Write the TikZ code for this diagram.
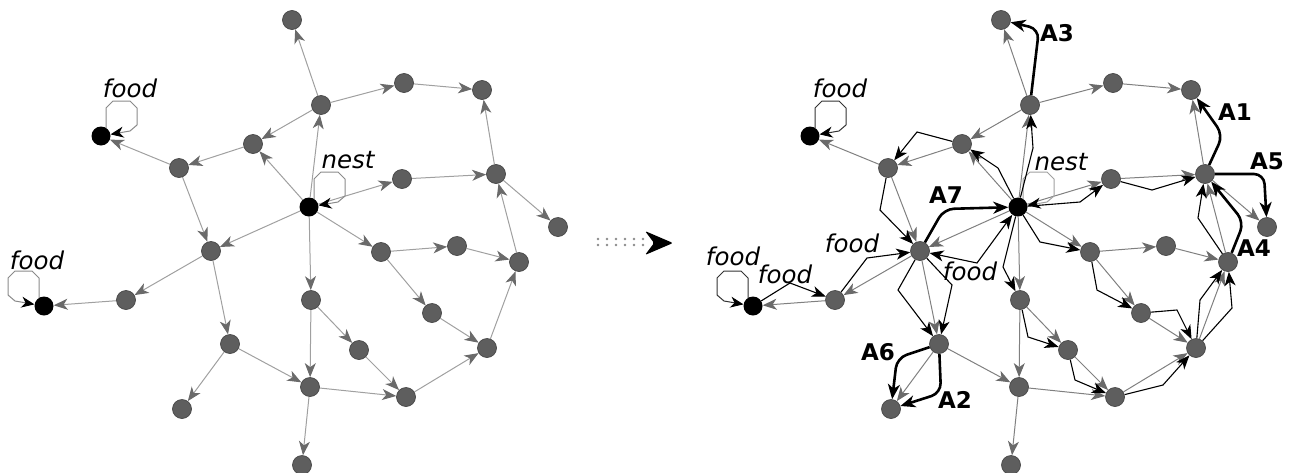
\documentclass[tikz,border=0pt]{standalone}
\usepackage{fontspec}
\setmainfont{DejaVu Sans}
\usetikzlibrary{arrows.meta,calc}
\pgfdeclarelayer{bg}
\pgfsetlayers{bg,main}
\definecolor{vfill}{HTML}{5E5E5E}
\definecolor{vline}{HTML}{474747}
\definecolor{eline}{HTML}{A0A0A0}
\definecolor{eliner}{HTML}{808080}
\definecolor{etip}{HTML}{6A6A6A}
\definecolor{lgray}{HTML}{8A8A8A}
\definecolor{dgray}{HTML}{333333}
\tikzset{
 vtx/.style={circle,fill=vfill,draw=vline,line width=0.7pt,minimum size=19pt,inner sep=0pt},
 fnode/.style={circle,fill=black,minimum size=19pt,inner sep=0pt},
 gedge/.style={draw=eline,line width=1pt,-{Stealth[length=14pt,width=11pt,inset=4pt,color=etip]}},
 gedger/.style={gedge,draw=eliner},
 bedge/.style={draw=black,line width=1.1pt,-{Stealth[length=14pt,width=11pt,inset=4pt]}},
 bboth/.style={draw=black,line width=1.1pt,{Stealth[length=14pt,width=11pt,inset=4pt]}-{Stealth[length=14pt,width=11pt,inset=4pt]}},
 tedge/.style={draw=black,line width=2.6pt,rounded corners=10pt,-{Stealth[length=15pt,width=12pt,inset=4.5pt]}},
 loopline/.style={line width=1pt,-{Stealth[length=13pt,width=11pt,inset=4pt,color=black]}},
 lbl/.style={font=\fontsize{24.5}{28}\selectfont\itshape,inner sep=0pt},
 albl/.style={font=\fontsize{23}{26}\selectfont\bfseries,inner sep=0pt},
}
\newcommand\myloopR[2]{\draw[loopline,draw=#2] ($(#1)+(5,-8)$) -- ++(0,-20) -- ++(7,-7) -- ++(17,0) -- ++(7,7) -- ++(0,17) -- ++(-7,6) -- (#1);}
\newcommand\myloopL[2]{\draw[loopline,draw=#2] ($(#1)+(-5,-8)$) -- ++(0,-20) -- ++(-7,-7) -- ++(-17,0) -- ++(-7,7) -- ++(0,17) -- ++(7,6) -- (#1);}
\begin{document}
\begin{tikzpicture}[x=1pt,y=-1pt]
\useasboundingbox (0,0) rectangle (1294,472);
% nodes (left graph, right graph = shifted copy)
\foreach \n/\x/\y in {T/292/20, U/321/105, R1/404/83, R2/482/90, A/179/168, B/253/144,
  C/402/179, D/496/174, E/558/227, F/211/251, G/381/252, H/457/246, I/519/262,
  J/126/300, K/311/300, L/432/313, M/359/350, NN/487/348, O/230/344, P/182/409,
  Q/310/387, S/406/397, V/302/465}{
  \node[vtx] (l\n) at (\x,\y) {};
  \node[vtx] (r\n) at (\x+709,\y) {};
}
\foreach \n/\x/\y in {F1/101/136, F2/44/306, N/309/207}{
  \node[fnode] (l\n) at (\x,\y) {};
  \node[fnode] (r\n) at (\x+709,\y) {};
}
% labels
\node[lbl] (tl1) at (130,88) {food};
\node[lbl] (tl2) at (37,260) {food};
\node[lbl] (tl3) at (348,160) {nest};
\node[lbl] (tr1) at (840,88) {food};
\node[lbl] (tr2) at (733,256) {food};
\node[lbl] (tr3) at (785,274) {food};
\node[lbl] (tr4) at (852,243) {food};
\node[lbl] (tr5) at (970,271) {food};
\node[lbl] (tr6) at (1061,162) {nest};
\node[albl] (a3) at (1057,33) {A3};
\node[albl] (a1) at (1235,112) {A1};
\node[albl] (a5) at (1267,161) {A5};
\node[albl] (a4) at (1254,248) {A4};
\node[albl] (a6) at (878,352) {A6};
\node[albl] (a2) at (955,400) {A2};
\node[albl] (a7) at (946,195) {A7};
% middle arrow
\foreach \i in {0,...,5}{
  \fill[lgray] (598+\i*9,239) circle[radius=1.4pt];
  \fill[lgray] (598+\i*9,245) circle[radius=1.4pt];
}
\fill[rounded corners=1.5pt] (673,243) -- (645,231) -- (654,243) -- (645,255) -- cycle;
\begin{pgfonlayer}{bg}
% gray edges, both graphs
\foreach \a/\b in {U/T, U/R1, R1/R2, D/R2, U/B, B/A, A/F1, N/B, N/U, N/C, C/D, D/E, I/D,
  A/F, N/F, F/J, J/F2, F/O, O/P, O/Q, N/K, K/Q, K/M, M/S, Q/S, S/NN, NN/I, L/NN,
  G/L, G/H, H/I, N/G, Q/V}{
  \draw[gedge] (l\a) -- (l\b);
  \draw[gedger] (r\a) -- (r\b);
}
% self loops
\myloopR{lF1}{lgray}
\myloopL{lF2}{lgray}
\myloopR{lN}{lgray}
\myloopR{rF1}{dgray}
\myloopL{rF2}{dgray}
\myloopR{rN}{eline}
% thin black edges (right graph)
\draw[bedge] (rB) -- (917,132) -- (rA);
\draw[bedge] (rN) -- (998,168) -- (rB);
\draw[bedge] (rN) -- (1033,148) -- (rU);
\draw[bedge] (rA) -- (880,210) -- (rF);
\draw[bedge] (rJ) -- (867,258) -- (rF);
\draw[bedge] (rF2) -- (790,283) -- (rJ);
\draw[bboth] (rN) -- (977,263) -- (rF);
\draw[bedge] (rF) -- (898,290) -- (rO);
\draw[bedge] (rF) -- (952,285) -- (rO);
\draw[bedge] (rN) -- (1080,202) -- (rC);
\draw[bedge] (rC) -- (1152,190) -- (rD);
\draw[bedge] (rN) -- (1040,242) -- (rG);
\draw[bedge] (rN) -- (1003,267) -- (rK);
\draw[bedge] (rK) -- (1028,337) -- (rM);
\draw[bedge] (rM) -- (1075,380) -- (rS);
\draw[bedge] (rS) -- (1163,385) -- (rNN);
\draw[bedge] (rG) -- (1097,290) -- (rL);
\draw[bedge] (rL) -- (1177,310) -- (rNN);
\draw[bedge] (rNN) -- (1200,300) -- (rI);
\draw[bedge] (rNN) -- (1232,308) -- (rI);
\draw[bedge] (rI) -- (1198,218) -- (rD);
% thick black edges (ants A1..A7)
\draw[tedge] (rD) -- (1223,135) -- (rR2);
\draw[tedge] (rO) -- (941,393) -- (rP);
\draw[tedge] (rU) -- (1039,29) -- (rT);
\draw[tedge] (rI) -- (1244,222) -- (rD);
\draw[tedge] (rD) -- (1264,174) -- (rE);
\draw[tedge] (rO) -- (897,358) -- (rP);
\draw[tedge] (rF) -- (944,209) -- (rN);
\end{pgfonlayer}
\end{tikzpicture}
\end{document}
